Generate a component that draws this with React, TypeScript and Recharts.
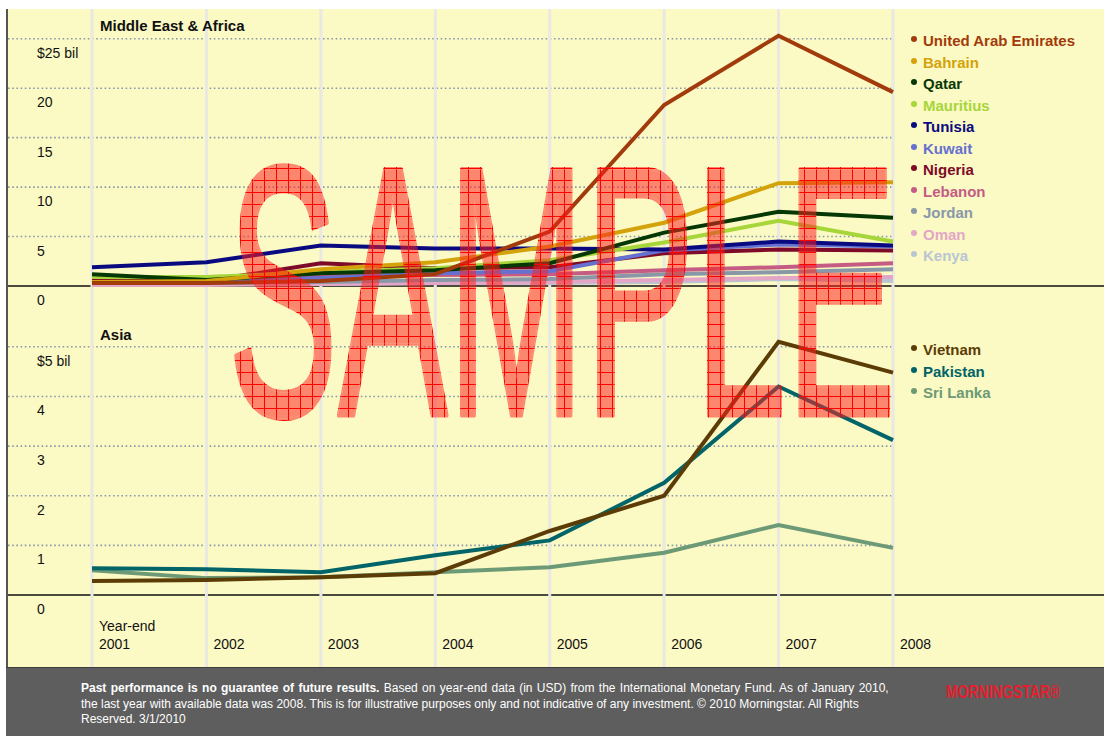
import React from 'react';
import { LineChart, Line, XAxis, YAxis, CartesianGrid } from 'recharts';

const years = ['2001', '2002', '2003', '2004', '2005', '2006', '2007', '2008'];

// Middle East & Africa ($ bil)
const meaNames = ['United Arab Emirates', 'Bahrain', 'Qatar', 'Mauritius', 'Tunisia', 'Kuwait', 'Nigeria', 'Lebanon', 'Jordan', 'Oman', 'Kenya'];
const meaColors = ['#A23B0B', '#D4A20A', '#063806', '#A6D63A', '#0A0A80', '#6670D0', '#7D0A28', '#C45C84', '#8898A8', '#E3A6C6', '#B8C6D2'];
const uae = [0.3, 0.3, 0.5, 1.2, 5.5, 18.3, 25.3, 19.6];
const bahrain = [0.4, 0.5, 1.7, 2.4, 4.0, 6.4, 10.4, 10.5];
const qatar = [1.2, 0.6, 1.3, 1.6, 2.3, 5.4, 7.5, 6.9];
const mauritius = [0.9, 0.9, 1.4, 1.8, 2.6, 4.4, 6.6, 4.5];
const tunisia = [1.9, 2.4, 4.1, 3.8, 3.8, 3.7, 4.5, 4.1];
const kuwait = [0.3, 0.4, 0.8, 1.3, 1.5, 3.6, 4.2, 4.0];
const nigeria = [0.5, 0.5, 2.3, 1.8, 1.9, 3.3, 3.7, 3.6];
const lebanon = [0.9, 0.9, 1.0, 1.1, 1.2, 1.6, 1.9, 2.3];
const jordan = [0.3, 0.3, 0.4, 0.6, 0.7, 1.2, 1.4, 1.7];
const oman = [0.1, 0.1, 0.2, 0.3, 0.4, 0.6, 0.8, 0.9];
const kenya = [0.2, 0.2, 0.2, 0.3, 0.3, 0.4, 0.7, 0.5];
const meaSeries = [uae, bahrain, qatar, mauritius, tunisia, kuwait, nigeria, lebanon, jordan, oman, kenya];
const meaTicks = [0, 5, 10, 15, 20, 25];

// Asia ($ bil)
const asiaNames = ['Vietnam', 'Pakistan', 'Sri Lanka'];
const asiaColors = ['#5C3C06', '#006468', '#6C9A76'];
const vietnam = [0.28, 0.3, 0.36, 0.44, 1.29, 2.0, 5.1, 4.48];
const pakistan = [0.54, 0.52, 0.46, 0.8, 1.1, 2.26, 4.2, 3.12];
const sriLanka = [0.5, 0.34, 0.36, 0.46, 0.56, 0.85, 1.41, 0.95];
const asiaSeries = [vietnam, pakistan, sriLanka];
const asiaTicks = [0, 1, 2, 3, 4, 5];

const buildRows = (names: string[], series: number[][]) =>
  years.map((year, i) => {
    const row: Record<string, any> = { year };
    names.forEach((n, k) => {
      row[n] = series[k][i];
    });
    return row;
  });

const meaData = buildRows(meaNames, meaSeries);
const asiaData = buildRows(asiaNames, asiaSeries);

const FONT = '"Liberation Sans", Arial, Helvetica, sans-serif';
const CHART_W = 1096;

const makeYTick = (top: number) => (props: any) => {
  const { y, payload } = props;
  const v = payload.value;
  const label = v === top ? `$${v} bil` : String(v);
  return (
    <text x={29} y={y + 19} fontSize={14} fill="#111" fontFamily={FONT}>
      {label}
    </text>
  );
};

const makeHLine = (fullWidth: number) => (props: any) => {
  const { y1, x2, y, height, index } = props;
  const isZero = Math.abs(y1 - (y + height)) < 1;
  if (isZero) {
    return <line key={`h-${index}`} x1={0} x2={fullWidth} y1={y1} y2={y1} stroke="#111" strokeWidth={1.5} />;
  }
  return (
    <line key={`h-${index}`} x1={0} x2={x2} y1={y1} y2={y1} stroke="#8A9AAA" strokeWidth={1.6} strokeDasharray="1.6 2.6" />
  );
};

const makeVLine = (chartH: number) => (props: any) => {
  const { x1, index } = props;
  return <line key={`v-${index}`} x1={x1} x2={x1} y1={0} y2={chartH} stroke="#E9E8E2" strokeWidth={3} />;
};

const EmptyTick = () => <g />;

const XTick = (props: any) => {
  const { x, payload, index } = props;
  return (
    <g>
      {index === 0 && (
        <text x={x + 7} y={322} fontSize={14} fill="#111" fontFamily={FONT}>
          Year-end
        </text>
      )}
      <text x={x + 7} y={340} fontSize={14} fill="#111" fontFamily={FONT}>
        {payload.value}
      </text>
    </g>
  );
};

const LegendBlock = ({ names, colors, top }: { names: string[]; colors: string[]; top: number }) => (
  <>
    {names.map((n, i) => (
      <div
        key={n}
        style={{
          position: 'absolute',
          left: 911,
          top: top + i * 21.5,
          height: 18,
          lineHeight: '18px',
          display: 'flex',
          alignItems: 'center',
          color: colors[i],
          fontWeight: 'bold',
          fontSize: 15,
          whiteSpace: 'nowrap',
          fontFamily: FONT,
        }}
      >
        <span
          style={{
            display: 'inline-block',
            width: 6,
            height: 6,
            borderRadius: 3,
            background: colors[i],
            marginRight: 6,
            position: 'relative',
            top: -2,
          }}
        />
        {n}
      </div>
    ))}
  </>
);

const renderLines = (names: string[], colors: string[]) =>
  names
    .map((n, i) => (
      <Line
        key={n}
        type="linear"
        dataKey={n}
        stroke={colors[i]}
        strokeWidth={4}
        dot={false}
        activeDot={false}
        isAnimationActive={false}
      />
    ))
    .reverse();

const WM = { x: 228, y: 415, fontSize: 357, textLength: 668 };

export default function App() {
  const c1H = 300;
  const c2H = 359;
  return (
    <div
      style={{
        position: 'absolute',
        left: 0,
        top: 0,
        width: 1104,
        height: 736,
        overflow: 'hidden',
        background: '#FFFFFF',
        fontFamily: FONT,
      }}
    >
      <div style={{ position: 'absolute', left: 8, top: 9, width: 1096, height: 659, background: '#FBF9C4' }} />

      <div style={{ position: 'absolute', left: 8, top: 9 }}>
        <LineChart width={CHART_W} height={c1H} data={meaData} margin={{ top: 5, right: 211, bottom: 23, left: 0 }}>
          <CartesianGrid syncWithTicks horizontal={makeHLine(CHART_W)} vertical={makeVLine(c1H)} />
          <XAxis dataKey="year" height={0} interval={0} tick={<EmptyTick />} axisLine={false} tickLine={false} />
          <YAxis
            width={84}
            domain={[0, 27.5]}
            ticks={meaTicks}
            interval={0}
            axisLine={false}
            tickLine={false}
            tick={makeYTick(25)}
          />
          {renderLines(meaNames, meaColors)}
        </LineChart>
      </div>

      <div style={{ position: 'absolute', left: 8, top: 309 }}>
        <LineChart width={CHART_W} height={c2H} data={asiaData} margin={{ top: 13, right: 211, bottom: 0, left: 0 }}>
          <CartesianGrid syncWithTicks horizontal={makeHLine(CHART_W)} vertical={makeVLine(c2H)} />
          <XAxis dataKey="year" height={73} interval={0} axisLine={false} tickLine={false} tick={<XTick />} />
          <YAxis
            width={84}
            domain={[0, 5.5]}
            ticks={asiaTicks}
            interval={0}
            axisLine={false}
            tickLine={false}
            tick={makeYTick(5)}
          />
          {renderLines(asiaNames, asiaColors)}
        </LineChart>
      </div>

      <div style={{ position: 'absolute', left: 100, top: 17, fontSize: 15, fontWeight: 'bold', color: '#111', lineHeight: '18px' }}>
        Middle East &amp; Africa
      </div>
      <div style={{ position: 'absolute', left: 100, top: 326, fontSize: 15, fontWeight: 'bold', color: '#111', lineHeight: '18px' }}>
        Asia
      </div>

      <LegendBlock names={meaNames} colors={meaColors} top={32} />
      <LegendBlock names={asiaNames} colors={asiaColors} top={341} />

      <div style={{ position: 'absolute', left: 6, top: 9, width: 2, height: 727, background: '#555' }} />
      <div style={{ position: 'absolute', left: 6, top: 667, width: 1098, height: 69, background: '#5E5E5E' }} />
      <div style={{ position: 'absolute', left: 6, top: 667, width: 1098, height: 1, background: '#3E3E3E' }} />

      <div
        style={{
          position: 'absolute',
          left: 81,
          top: 681,
          fontSize: 12,
          lineHeight: '15.5px',
          color: '#FFFFFF',
          whiteSpace: 'nowrap',
        }}
      >
        <div style={{ wordSpacing: 1 }}>
          <b>Past performance is no guarantee of future results.</b> Based on year-end data (in USD) from the International Monetary Fund. As of January 2010,
        </div>
        <div>
          the last year with available data was 2008. This is for illustrative purposes only and not indicative of any investment. © 2010 Morningstar. All Rights
        </div>
        <div>Reserved. 3/1/2010</div>
      </div>

      <svg style={{ position: 'absolute', left: 0, top: 0, pointerEvents: 'none' }} width={1104} height={736}>
        <defs>
          <pattern id="wmPattern" width="12" height="12" patternUnits="userSpaceOnUse">
            <rect width="12" height="12" fill="rgba(255,30,30,0.52)" />
            <path d="M0 0.5H12M0.5 0V12" stroke="#FF0000" strokeWidth={1} />
          </pattern>
          <mask id="wmRing" maskUnits="userSpaceOnUse" x={0} y={0} width={1104} height={736}>
            <text
              x={WM.x}
              y={WM.y}
              fontSize={WM.fontSize}
              textLength={WM.textLength}
              lengthAdjust="spacingAndGlyphs"
              fontFamily={FONT}
              fill="white"
              stroke="white"
              strokeWidth={5}
              strokeLinejoin="round"
            >
              SAMPLE
            </text>
            <text
              x={WM.x}
              y={WM.y}
              fontSize={WM.fontSize}
              textLength={WM.textLength}
              lengthAdjust="spacingAndGlyphs"
              fontFamily={FONT}
              fill="black"
            >
              SAMPLE
            </text>
          </mask>
        </defs>
        <rect x={0} y={0} width={1104} height={736} fill="url(#wmPattern)" mask="url(#wmRing)" />
        <text
          x={WM.x}
          y={WM.y}
          fontSize={WM.fontSize}
          textLength={WM.textLength}
          lengthAdjust="spacingAndGlyphs"
          fill="url(#wmPattern)"
          fontFamily={FONT}
        >
          SAMPLE
        </text>
        <text
          x={946}
          y={698}
          fontSize={19}
          fontWeight="bold"
          textLength={114}
          lengthAdjust="spacingAndGlyphs"
          fill="#E4202E"
          fontFamily={'"Liberation Sans Narrow", ' + FONT}
        >
          MORNINGSTAR®
        </text>
      </svg>
    </div>
  );
}
